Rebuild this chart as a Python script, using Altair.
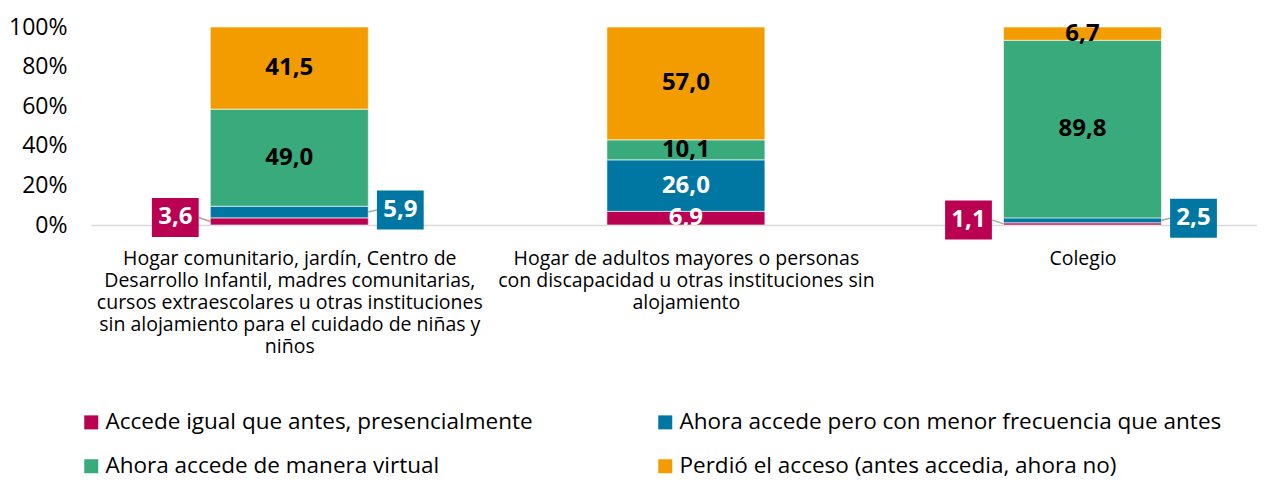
import json
import altair as alt
import pandas as pd

categories = [
    "Hogar comunitario, jardín, Centro de Desarrollo Infantil, madres comunitarias, cursos extraescolares u otras instituciones sin alojamiento para el cuidado de niñas y niños",
    "Hogar de adultos mayores o personas con discapacidad u otras instituciones sin alojamiento",
    "Colegio",
]
category_lines = [
    ["Hogar comunitario, jardín, Centro de", "Desarrollo Infantil, madres comunitarias,",
     "cursos extraescolares u otras instituciones", "sin alojamiento para el cuidado de niñas y", "niños"],
    ["Hogar de adultos mayores o personas", "con discapacidad u otras instituciones sin", "alojamiento"],
    ["Colegio"],
]
series = [
    "Accede igual que antes, presencialmente",
    "Ahora accede pero con menor frecuencia que antes",
    "Ahora accede de manera virtual",
    "Perdió el acceso (antes accedia, ahora no)",
]
colors = ["#BA0050", "#0077A2", "#38AA7B", "#F29C00"]
text_colors = ["white", "white", "black", "black"]
y_ticks = [0, 0.2, 0.4, 0.6, 0.8, 1.0]

presencial = [3.6, 6.9, 1.1]
menor_frecuencia = [5.9, 26.0, 2.5]
virtual = [49.0, 10.1, 89.8]
perdio = [41.5, 57.0, 6.7]
values_by_series = [presencial, menor_frecuencia, virtual, perdio]

rows = []
for s_i, (s, vals) in enumerate(zip(series, values_by_series)):
    for c_i, v in enumerate(vals):
        rows.append({"idx": c_i, "category": categories[c_i], "series": s, "order": s_i,
                     "value": v, "hex": colors[s_i], "tcolor": text_colors[s_i]})
df = pd.DataFrame(rows)

FONT = "Open Sans"
BAR_W = 158
NUM_SIZE = 24

x_scale = alt.Scale(domain=[-0.5, 2.44], nice=False, zero=False, padding=0)
y_scale = alt.Scale(domain=[0, 1], nice=False)
label_expr = json.dumps(category_lines, ensure_ascii=False) + "[datum.value]"

x_axis = alt.Axis(values=[0, 1, 2], labelExpr=label_expr, ticks=False, grid=False,
                  domainColor="#D9D9D9", domainWidth=1.5, labelFont=FONT,
                  labelFontSize=19.5, labelColor="#000000", labelLineHeight=22,
                  labelPadding=24, labelLimit=0, labelFlush=False,
                  labelOverlap=False, labelBaseline="top", labelAlign="center")
y_axis = alt.Axis(values=y_ticks, format=".0%", ticks=False, grid=False, domain=False,
                  labelFont=FONT, labelFontSize=23, labelColor="#000000", labelPadding=24,
                  labelOverlap=False, labelFlush=False, labelBound=False)

X = alt.X("idx:Q", scale=x_scale, title=None, axis=x_axis)
Y_MID = alt.Y("mid:Q", scale=y_scale, title=None, axis=y_axis)

base = (
    alt.Chart(df)
    .transform_stack(stack="value", groupby=["idx"], as_=["y0", "y1"], offset="normalize",
                     sort=[alt.SortField("order", order="ascending")])
    .transform_calculate(mid="(datum.y0 + datum.y1) / 2",
                         label="replace(format(datum.value, '.1f'), '.', ',')")
)

bars = base.mark_bar(size=BAR_W, orient="vertical", stroke="white", strokeWidth=0.6).encode(
    x=X,
    y=alt.Y("y0:Q", scale=y_scale, title=None, axis=y_axis),
    y2="y1:Q",
    color=alt.Color("series:N", scale=alt.Scale(domain=series, range=colors),
                    sort=series, title=None,
                    legend=alt.Legend(orient="none", legendX=-11, legendY=384, columns=2,
                                      direction="horizontal",
                                      columnPadding=121, rowPadding=21, symbolType="square",
                                      symbolSize=196, symbolStrokeWidth=0, labelFont=FONT,
                                      labelFontSize=22.5, labelColor="#000000", labelLimit=0,
                                      labelOffset=3)),
    order=alt.Order("order:Q"),
)

# labels inside segments; the bottom segment's label is clipped at the baseline
inside_bottom = base.transform_filter("datum.value >= 6 && datum.order == 0").mark_text(
    font=FONT, fontSize=NUM_SIZE, fontWeight="bold", clip=True
).encode(x=X, y=Y_MID, text="label:N", color=alt.Color("tcolor:N", scale=None))

inside_other = base.transform_filter("datum.value >= 6 && datum.order > 0").mark_text(
    font=FONT, fontSize=NUM_SIZE, fontWeight="bold"
).encode(x=X, y=Y_MID, text="label:N", color=alt.Color("tcolor:N", scale=None))

box_shape = "M-1.2,-1L1.2,-1L1.2,1L-1.2,1Z"

def callout(order_code, dx, dy):
    src = base.transform_filter(f"datum.value < 6 && datum.order == {order_code}")
    edge_box = dx - 23.5 if dx > 0 else dx + 23.5
    edge_bar = BAR_W / 2 if dx > 0 else -BAR_W / 2
    leader = src.mark_rule(color="#A6A6A6", strokeWidth=1.5, xOffset=edge_box,
                           x2Offset=edge_bar, yOffset=dy).encode(
        x=X, x2="idx:Q", y=Y_MID, y2="mid:Q",
    )
    box = src.mark_point(shape=box_shape, size=39 ** 2, filled=True, opacity=1,
                         xOffset=dx, yOffset=dy).encode(
        x=X, y=Y_MID, color=alt.Color("hex:N", scale=None),
    )
    txt = src.mark_text(font=FONT, fontSize=NUM_SIZE, fontWeight="bold", color="white",
                        xOffset=dx, yOffset=dy).encode(
        x=X, y=Y_MID, text="label:N",
    )
    return leader + box + txt

chart = (
    alt.layer(bars, inside_bottom, inside_other, callout(0, -114, -4), callout(1, 111, -2))
    .properties(width=1166, height=198,
                padding={"top": 8, "left": 0, "right": 0, "bottom": 0})
    .configure_view(stroke=None)
)

chart.save("out.html", embed_options={"renderer": "svg", "actions": False})
